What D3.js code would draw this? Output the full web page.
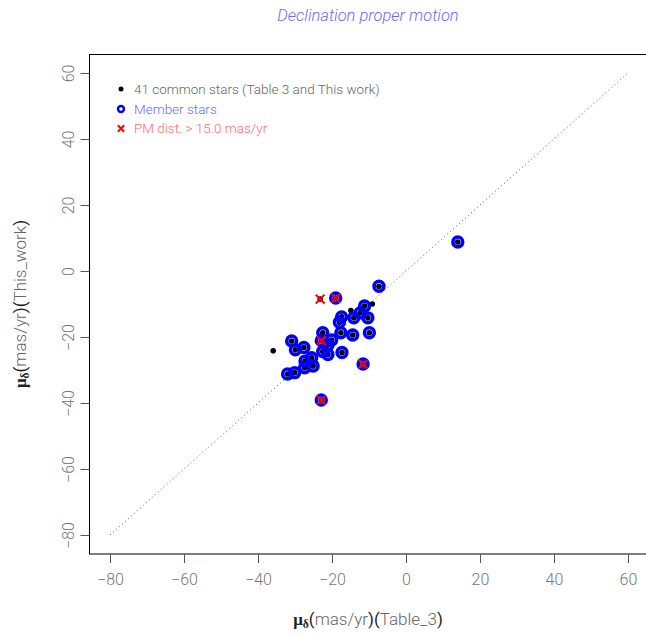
<!DOCTYPE html>
<html><head><meta charset="utf-8">
<script src="https://cdn.jsdelivr.net/npm/d3@7"></script>
<style>
body{margin:0;background:#fff;}
text{font-family:Roboto,"Liberation Sans",sans-serif;font-weight:300;}
</style></head>
<body><svg id="c" width="646" height="635"></svg>
<script>
const ticks = [-80,-60,-40,-20,0,20,40,60];
// member stars: [Table_3, This_work]
const memberX = [14.0,-7.3,-19.0,-11.2,-12.4,-14.1,-10.3,-17.4,-18.0,-22.5,-17.6,-14.4,-9.9,-22.9,-20.1,-21.1,-22.5,-21.1,-17.3,-30.9,-29.9,-27.6,-25.5,-27.3,-25.1,-27.4,-30.1,-32.0,-11.6,-22.9];
const memberY = [8.8,-4.6,-8.2,-10.6,-12.7,-14.2,-14.2,-13.9,-15.5,-18.7,-18.7,-19.4,-18.7,-21.1,-20.9,-22.4,-24.4,-25.3,-24.7,-21.2,-23.9,-23.2,-26.3,-27.3,-28.8,-29.3,-30.8,-31.2,-28.2,-39.1];
// common stars that are not members
const otherX = [-14.9,-9.1,-35.9,-23.2];
const otherY = [-12.0,-10.0,-24.2,-8.5];
// stars with PM distance > 15 mas/yr
const farX = [-19.0,-22.9,-11.6,-22.9,-23.2];
const farY = [-8.2,-21.1,-28.2,-39.1,-8.5];

const svg = d3.select("#c");
const x = d3.scaleLinear().domain([-85.6,65.6]).range([89.3,648.7]);
const y = d3.scaleLinear().domain([-85.6,65.6]).range([553.5,54.5]);

svg.append("text").attr("x",368).attr("y",21).attr("text-anchor","middle")
  .attr("fill","#6a6aff").attr("font-size",16.5).attr("font-style","italic").text("Declination proper motion");

// diagonal
svg.append("line").attr("x1",x(-80)).attr("y1",y(-80)).attr("x2",x(60)).attr("y2",y(60))
  .attr("stroke","#555").attr("stroke-width",1).attr("stroke-dasharray","1,3");

const allX = memberX.concat(otherX), allY = memberY.concat(otherY);
const g = svg.append("g");
g.selectAll(".dot").data(allX.map((v,i)=>[v,allY[i]])).enter().append("circle")
  .attr("cx",d=>x(d[0])).attr("cy",d=>y(d[1])).attr("r",2.8).attr("fill","#000");
g.selectAll(".mem").data(memberX.map((v,i)=>[v,memberY[i]])).enter().append("circle")
  .attr("cx",d=>x(d[0])).attr("cy",d=>y(d[1])).attr("r",4.9).attr("fill","none")
  .attr("stroke","#0000ff").attr("stroke-width",3.6);
const cross = (sel, cx, cy, s) => {
  sel.append("path").attr("d",`M${cx-s},${cy-s}L${cx+s},${cy+s}M${cx-s},${cy+s}L${cx+s},${cy-s}`)
    .attr("stroke","#ff0000").attr("stroke-width",2).attr("fill","none");
};
farX.forEach((v,i)=>cross(g, x(v), y(farY[i]), 4.4));

// box
svg.append("rect").attr("x",89.5).attr("y",54.5).attr("width",600).attr("height",499.5)
  .attr("fill","none").attr("stroke","#000").attr("stroke-width",1);

const fmt = d=>d<0?"\u2212"+Math.abs(d):d;
// x axis
const xa = svg.append("g").attr("transform","translate(0,554)");
xa.call(d3.axisBottom(x).tickValues(ticks).tickSize(9).tickPadding(11).tickFormat(fmt));
xa.select(".domain").remove();
xa.selectAll("line").attr("stroke","#555");
xa.selectAll("text").attr("fill","#777").attr("font-size",16).style("font-family","Roboto,'Liberation Sans',sans-serif").style("font-weight",300);

// y axis
const ya = svg.append("g").attr("transform","translate(89.5,0)");
ya.call(d3.axisLeft(y).tickValues(ticks).tickSize(9).tickPadding(0).tickFormat(fmt));
ya.select(".domain").remove();
ya.selectAll("line").attr("stroke","#555");
ya.selectAll("text").attr("fill","#777").attr("font-size",16).attr("text-anchor","middle")
  .attr("x",null).attr("dy",null)
  .attr("transform","translate(-21,0) rotate(-90)").attr("dy","0.35em")
  .style("font-family","Roboto,'Liberation Sans',sans-serif").style("font-weight",300);

// axis titles
function title(sel, label){
  const t = sel.attr("font-size",17).attr("text-anchor","middle");
  t.append("tspan").style("font-family","'Liberation Serif',serif").style("font-weight",700).attr("fill","#222").text("\u03bc");
  t.append("tspan").style("font-family","'Liberation Serif',serif").style("font-weight",700).attr("fill","#222").attr("font-size",11.5).attr("dy",3).text("\u03b4");
  t.append("tspan").attr("dy",-3).attr("fill","#222").style("font-weight",400).text("(");
  t.append("tspan").attr("fill","#666").text("mas/yr");
  t.append("tspan").attr("fill","#222").style("font-weight",400).text(")(");
  t.append("tspan").attr("fill","#666").text(label);
  t.append("tspan").attr("fill","#222").style("font-weight",400).text(")");
}
title(svg.append("text").attr("x",368).attr("y",625), "Table_3");
title(svg.append("text").attr("transform","translate(26,304) rotate(-90)"), "This_work");

// legend
const lg = svg.append("g");
lg.append("circle").attr("cx",121).attr("cy",89).attr("r",2.5).attr("fill","#000");
lg.append("circle").attr("cx",121).attr("cy",109).attr("r",3).attr("fill","none").attr("stroke","#0000ff").attr("stroke-width",2.4);
cross(lg,121,128.5,3.2);
lg.append("text").attr("x",134).attr("y",94).attr("font-size",13.5).attr("fill","#666").text("41 common stars (Table 3 and This work)");
lg.append("text").attr("x",134).attr("y",114).attr("font-size",13.5).attr("fill","#6a6aff").text("Member stars");
lg.append("text").attr("x",134).attr("y",133).attr("font-size",13.5).attr("fill","#ff6a6a").text("PM dist. > 15.0 mas/yr");
</script></body></html>
